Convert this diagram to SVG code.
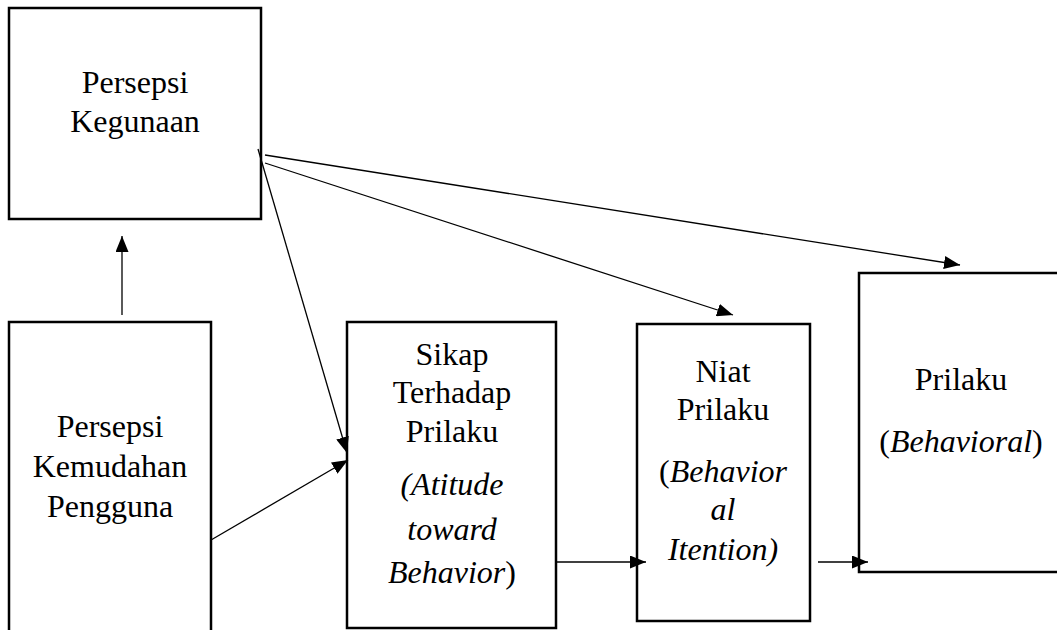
<svg xmlns="http://www.w3.org/2000/svg" width="1057" height="630" viewBox="0 0 1057 630">
<style>
.box{fill:#fff;stroke:#000;stroke-width:2.5}
.t{font-size:32px;fill:#000;text-anchor:middle}
.i{font-style:italic}
.c{stroke:#000;stroke-width:1.3;fill:none;marker-end:url(#ah)}
</style>
<defs>
<marker id="ah" markerWidth="16" markerHeight="13" refX="16" refY="6.5" orient="auto" markerUnits="userSpaceOnUse">
<path d="M0,0 L16,6.5 L0,13 Z" fill="#000"/>
</marker>
</defs>
<rect width="1057" height="630" fill="#fff"/>
<g font-family="Liberation Serif, Times New Roman, Tinos, DejaVu Serif, serif">
<g id="n1">
<rect class="box" x="9" y="8" width="252" height="211"/>
<text class="t" x="135" y="93">Persepsi</text>
<text class="t" x="135" y="132">Kegunaan</text>
</g>
<g id="n2">
<rect class="box" x="9" y="322" width="202" height="320"/>
<text class="t" x="110" y="437">Persepsi</text>
<text class="t" x="110" y="477">Kemudahan</text>
<text class="t" x="110" y="517">Pengguna</text>
</g>
<g id="n3">
<rect class="box" x="347" y="322" width="209" height="306"/>
<text class="t" x="452" y="365">Sikap</text>
<text class="t" x="452" y="403">Terhadap</text>
<text class="t" x="452" y="442">Prilaku</text>
<text class="t i" x="452" y="495">(Atitude</text>
<text class="t i" x="452" y="540">toward</text>
<text class="t" x="452" y="583"><tspan class="i">Behavior</tspan>)</text>
</g>
<g id="n4">
<rect class="box" x="637" y="324" width="173" height="297"/>
<text class="t" x="723" y="382">Niat</text>
<text class="t" x="723" y="420">Prilaku</text>
<text class="t" x="723" y="482">(<tspan class="i">Behavior</tspan></text>
<text class="t i" x="723" y="520">al</text>
<text class="t i" x="723" y="560">Itention)</text>
</g>
<g id="n5">
<rect class="box" x="859" y="273" width="220" height="299"/>
<text class="t" x="961" y="390">Prilaku</text>
<text class="t" x="961" y="452">(<tspan class="i">Behavioral</tspan>)</text>
</g>
</g>
<g id="connectors">
<line class="c" x1="122" y1="315" x2="122" y2="236"/>
<line class="c" x1="258" y1="149" x2="347" y2="453"/>
<line class="c" x1="211" y1="540" x2="348" y2="460"/>
<line class="c" x1="265" y1="163" x2="733" y2="315"/>
<line class="c" x1="265" y1="155" x2="960" y2="265"/>
<line class="c" x1="557" y1="562" x2="646" y2="562"/>
<line class="c" x1="818" y1="562" x2="868" y2="562"/>
</g>
</svg>
